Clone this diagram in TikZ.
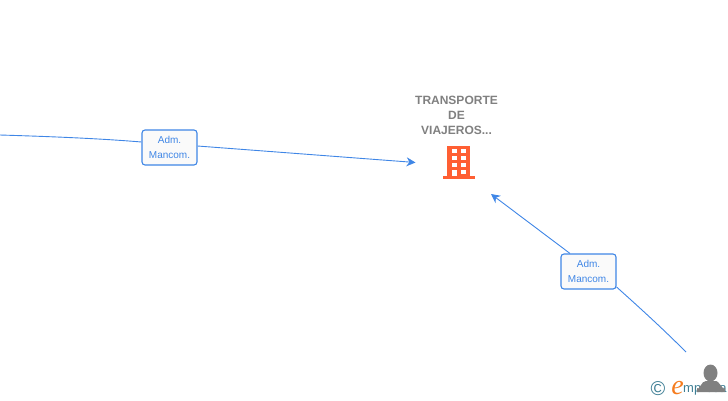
\documentclass[tikz,border=0pt]{standalone}
\usepackage{fontspec}
\setmainfont{Liberation Sans}
\newfontfamily\markfont{Liberation Serif}
\usetikzlibrary{arrows.meta}
\definecolor{linkblue}{HTML}{3F86E6}
\definecolor{iconorange}{HTML}{FF5F33}
\definecolor{titlegray}{HTML}{808080}
\definecolor{marktea}{HTML}{3F7F95}
\definecolor{markorange}{HTML}{F57C1F}
\tikzset{
  rolebox/.style={draw=linkblue,line width=1.1pt,rounded corners=3pt,fill=black!2,text=linkblue,
    minimum width=55pt,minimum height=35pt,inner sep=0pt,align=center,font=\fontsize{10}{15.5}\selectfont},
  link/.style={draw=linkblue,line width=.9pt},
  linkarrow/.style={link,-{Stealth[length=9pt,width=9pt]}},
}
\begin{document}
\begin{tikzpicture}[x=1pt,y=-1pt]
  \useasboundingbox(0,0)rectangle(728,400);
  % watermark
  \node[text=marktea,font=\fontsize{20}{20}\selectfont,inner sep=0pt](markc) at (658,389){©};
  \node[text=markorange,font=\markfont\fontsize{28}{28}\selectfont\itshape,inner sep=0pt](marke) at (677.5,388){e};
  \node[text=marktea,font=\fontsize{13}{13}\selectfont,anchor=west,inner sep=0pt](markt) at (683,390.5){mpresa};
  % title and building
  \node[text=titlegray,font=\fontsize{12}{15}\selectfont\bfseries,align=center,inner sep=0pt](title) at (456.5,115.5){TRANSPORTE\\DE\\VIAJEROS...};
  \node[fill=iconorange,minimum width=23pt,minimum height=30pt,inner sep=0pt](building) at (458.5,161){};
  \node[fill=iconorange,minimum width=32pt,minimum height=3pt,inner sep=0pt](buildingbase) at (459,177.5){};
  \foreach \y in {149,156,163,170}{
    \foreach \x in {452,461}{\fill[white](\x,\y)rectangle(\x+4.5,\y+4);}}
  \fill[white](452,174)rectangle(456.5,176);
  % person
  \fill[titlegray](710.5,373)ellipse(7pt and 8.5pt);
  \fill[titlegray](697,392)--(697,388)to[out=-70,in=170](706,381)--(715,381)to[out=10,in=-110](725,388)--(725,392)--cycle;
  % roles and links
  \node[rolebox](role1) at (169.5,147.5){Adm.\\Mancom.};
  \node[rolebox](role2) at (588.5,271.5){Adm.\\Mancom.};
  \coordinate(start1) at (0,135);
  \coordinate(end1) at (415.5,162.5);
  \coordinate(start2) at (686,352);
  \coordinate(end2) at (491,194);
  \draw[link](start1) .. controls (50,136.5) and (100,138.5) .. ([yshift=5.5pt]role1.west);
  \draw[linkarrow]([yshift=1.5pt]role1.east) -- (end1);
  \draw[link](start2) .. controls (662,328) and (640,308) .. ([yshift=-15.5pt]role2.east);
  \draw[linkarrow]([xshift=-18.5pt]role2.north) -- (end2);
\end{tikzpicture}
\end{document}
